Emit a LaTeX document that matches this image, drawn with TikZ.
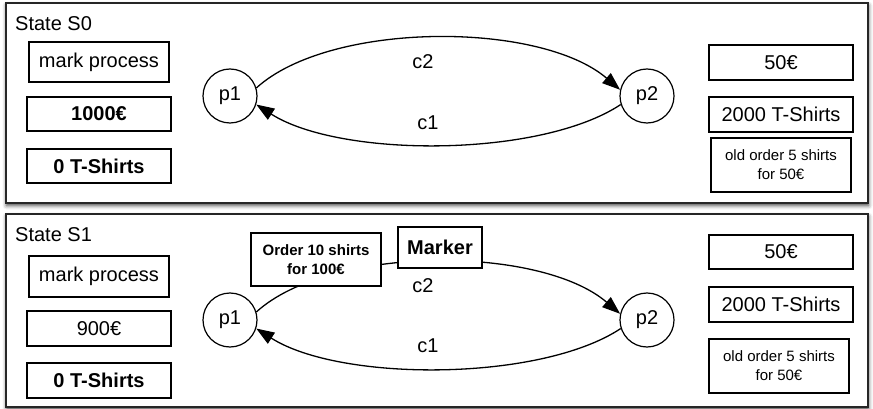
\documentclass[tikz,border=0pt]{standalone}
\usepackage{fontspec}
\setmainfont{Liberation Sans}
\usetikzlibrary{arrows.meta,shadows.blur}

\tikzset{
  frame/.style={draw=black!85, line width=1.8pt, fill=white,
    blur shadow={shadow xshift=0.5pt, shadow yshift=-2.5pt, shadow blur radius=4pt, shadow opacity=75}},
  field/.style={draw, line width=1.3pt, fill=white, inner sep=0pt,
    font=\fontsize{20}{23}\selectfont, align=center},
  smallfield/.style={field, font=\fontsize{15}{19}\selectfont},
  place/.style={draw, circle, line width=1.2pt, minimum size=54pt, inner sep=0pt,
    font=\fontsize{20}{23}\selectfont},
  title/.style={anchor=west, inner sep=0pt, font=\fontsize{20}{23}\selectfont},
  flow/.style={draw=black, line width=1.3pt,
    -{Triangle[length=18pt,width=13pt,color=black,fill=black]}},
  lbl/.style={inner sep=0pt, font=\fontsize{20}{23}\selectfont},
  boldfield/.style={field, font=\fontsize{20}{23}\selectfont\bfseries}
}

\begin{document}
\begin{tikzpicture}[x=1pt,y=-1pt]
\useasboundingbox (0,0) rectangle (873,409);

% ---------- state S0 ----------
\path[frame] (6,3) rectangle (868,203);
\node[title] (t0) at (15,24) {State S0};

\node[field, minimum width=140pt, minimum height=40pt] (mp0) at (99,62) {mark process};
\node[boldfield, minimum width=144pt, minimum height=34pt] (m0) at (99,114) {1000€};
\node[boldfield, minimum width=144pt, minimum height=34pt] (s0) at (99,166) {0 T-Shirts};

\node[place] (p1a) at (230,96) {p1};
\node[place] (p2a) at (647,96) {p2};

\draw[flow] (p1a.17) .. controls (330,21) and (540,21) .. (p2a.167);
\draw[flow] (p2a.198) .. controls (540,158) and (340,158) .. (p1a.342);
\node[lbl] (c2a) at (423,62) {c2};
\node[lbl] (c1a) at (428,123) {c1};

\node[field, minimum width=144pt, minimum height=35pt] (r0) at (781,62.5) {50€};
\node[field, minimum width=144pt, minimum height=35pt] (ts0) at (781,114.5) {2000 T-Shirts};
\node[smallfield, minimum width=140pt, minimum height=54pt] (o0) at (781,165) {old order 5 shirts\\for 50€};

% ---------- state S1 ----------
\path[frame] (6,214) rectangle (868,407);
\node[title] (t1) at (15,235) {State S1};

\node[field, minimum width=140pt, minimum height=41pt] (mp1) at (99,276.5) {mark process};
\node[field, minimum width=144pt, minimum height=35pt] (m1) at (99,328.5) {900€};
\node[boldfield, minimum width=144pt, minimum height=35pt] (s1) at (99,380.5) {0 T-Shirts};

\node[place] (p1b) at (230,320) {p1};
\node[place] (p2b) at (647,320) {p2};

\draw[flow] (p1b.17) .. controls (330,245) and (540,245) .. (p2b.167);
\draw[flow] (p2b.198) .. controls (540,382) and (340,382) .. (p1b.342);
\node[lbl] (c2b) at (423,286) {c2};
\node[lbl] (c1b) at (428,346) {c1};

\node[field, minimum width=130pt, minimum height=53pt, font=\fontsize{15}{19}\selectfont\bfseries] (ord) at (316,259.5) {Order 10 shirts\\for 100€};
\node[boldfield, minimum width=84pt, minimum height=41pt] (mk) at (440,247.5) {Marker};

\node[field, minimum width=144pt, minimum height=34pt] (r1) at (781,252) {50€};
\node[field, minimum width=144pt, minimum height=35pt] (ts1) at (781,304.5) {2000 T-Shirts};
\node[smallfield, minimum width=140pt, minimum height=54pt] (o1) at (779,366) {old order 5 shirts\\for 50€};
\end{tikzpicture}
\end{document}
